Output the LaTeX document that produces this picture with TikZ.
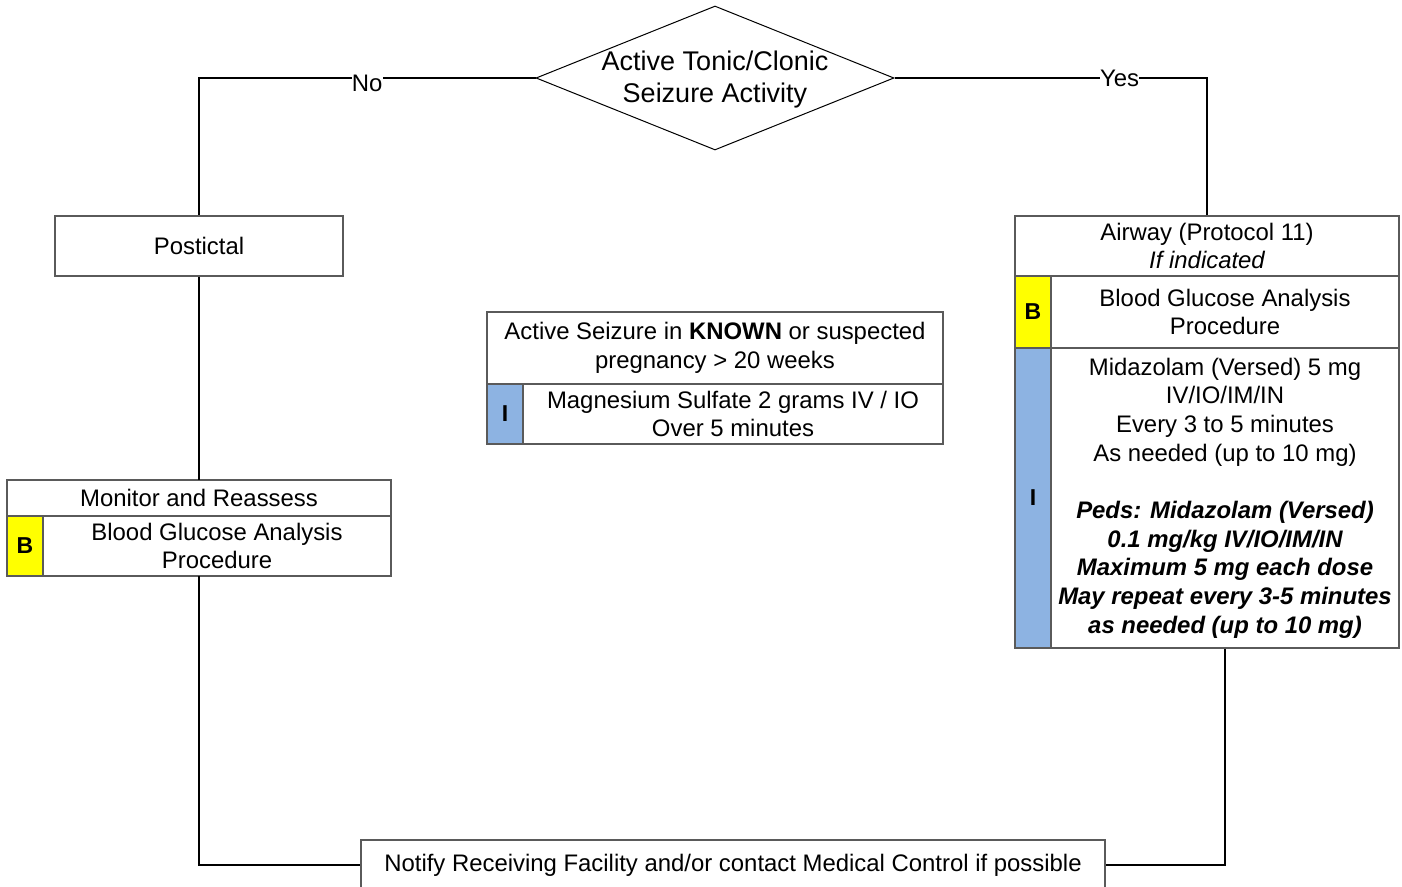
\documentclass[tikz,border=0pt]{standalone}
\usepackage{fontspec}
\setmainfont{Liberation Sans}
\usetikzlibrary{shapes.geometric}
\definecolor{boxgray}{HTML}{5A5A5A}
\definecolor{levelB}{HTML}{FFFF00}
\definecolor{levelI}{HTML}{8DB3E2}
\tikzset{
  txt/.style={font=\fontsize{23.9}{28.7}\selectfont, align=center, inner sep=0pt},
  cell/.style={draw=boxgray, line width=1.1pt, inner sep=0pt, txt},
  tag/.style={cell, font=\fontsize{23}{27}\selectfont\bfseries},
  wire/.style={draw=black, line width=1.5pt},
  branch/.style={fill=white, inner sep=1pt, txt}
}
\begin{document}
\begin{tikzpicture}[x=1pt, y=-1pt]
  \useasboundingbox (0,0) rectangle (1402,886);

  % decision
  \node (dec) [diamond, draw=black, line width=1pt, minimum width=358pt, minimum height=144pt, inner sep=0pt] at (715,78) {};
  \node (dectext) [txt, font=\fontsize{27}{32}\selectfont] at (715,80) {Active Tonic/Clonic\\Seizure Activity};

  % left branch
  \node (postictal) [cell, minimum width=288pt, minimum height=60pt] at (199,246) {Postictal};

  \node (mon) [minimum width=384pt, minimum height=96pt, inner sep=0pt] at (199,528) {};
  \node (monhead) [cell, minimum width=384pt, minimum height=36pt] at (199,498) {Monitor and Reassess};
  \node (monB) [tag, fill=levelB, minimum width=36pt, minimum height=60pt] at (25,546) {B};
  \node (monrow) [cell, minimum width=348pt, minimum height=60pt] at (217,546) {Blood Glucose Analysis\\Procedure};

  % centre note
  \node (preghead) [cell, minimum width=456pt, minimum height=72pt] at (715,348) {Active Seizure in \textbf{KNOWN} or suspected\\pregnancy > 20 weeks};
  \node (pregI) [tag, fill=levelI, minimum width=36pt, minimum height=60pt] at (505,414) {I};
  \node (pregrow) [cell, minimum width=420pt, minimum height=60pt] at (733,414) {Magnesium Sulfate 2 grams IV / IO\\Over 5 minutes};

  % right branch
  \node (airhead) [cell, minimum width=384pt, minimum height=60pt] at (1207,246) {Airway (Protocol 11)\\\itshape If indicated};
  \node (airB) [tag, fill=levelB, minimum width=36pt, minimum height=72pt] at (1033,312) {B};
  \node (airrow) [cell, minimum width=348pt, minimum height=72pt] at (1225,312) {Blood Glucose Analysis\\Procedure};
  \node (midI) [tag, fill=levelI, minimum width=36pt, minimum height=300pt] at (1033,498) {I};
  \node (midrow) [cell, minimum width=348pt, minimum height=300pt] at (1225,498) {%
    Midazolam (Versed) 5 mg\\IV/IO/IM/IN\\Every 3 to 5 minutes\\As needed (up to 10 mg)\\[28.7pt]
    \bfseries\itshape Peds: Midazolam (Versed)\\\bfseries\itshape 0.1 mg/kg IV/IO/IM/IN\\
    \bfseries\itshape Maximum 5 mg each dose\\\bfseries\itshape May repeat every 3-5 minutes\\
    \bfseries\itshape as needed (up to 10 mg)};

  % bottom
  \node (notify) [cell, minimum width=744pt, minimum height=50pt] at (733,865) {Notify Receiving Facility and/or contact Medical Control if possible};

  % connectors
  \draw[wire] (dec.west) -| node[branch, pos=0.25, yshift=-5pt] (no) {No} (postictal.north);
  \draw[wire] (dec.east) -| node[branch, pos=0.36] (yes) {Yes} (airhead.north);
  \draw[wire] (postictal.south) -- (mon.north);
  \draw[wire] (mon.south) |- (notify.west);
  \draw[wire] (midrow.south) |- (notify.east);
\end{tikzpicture}
\end{document}
